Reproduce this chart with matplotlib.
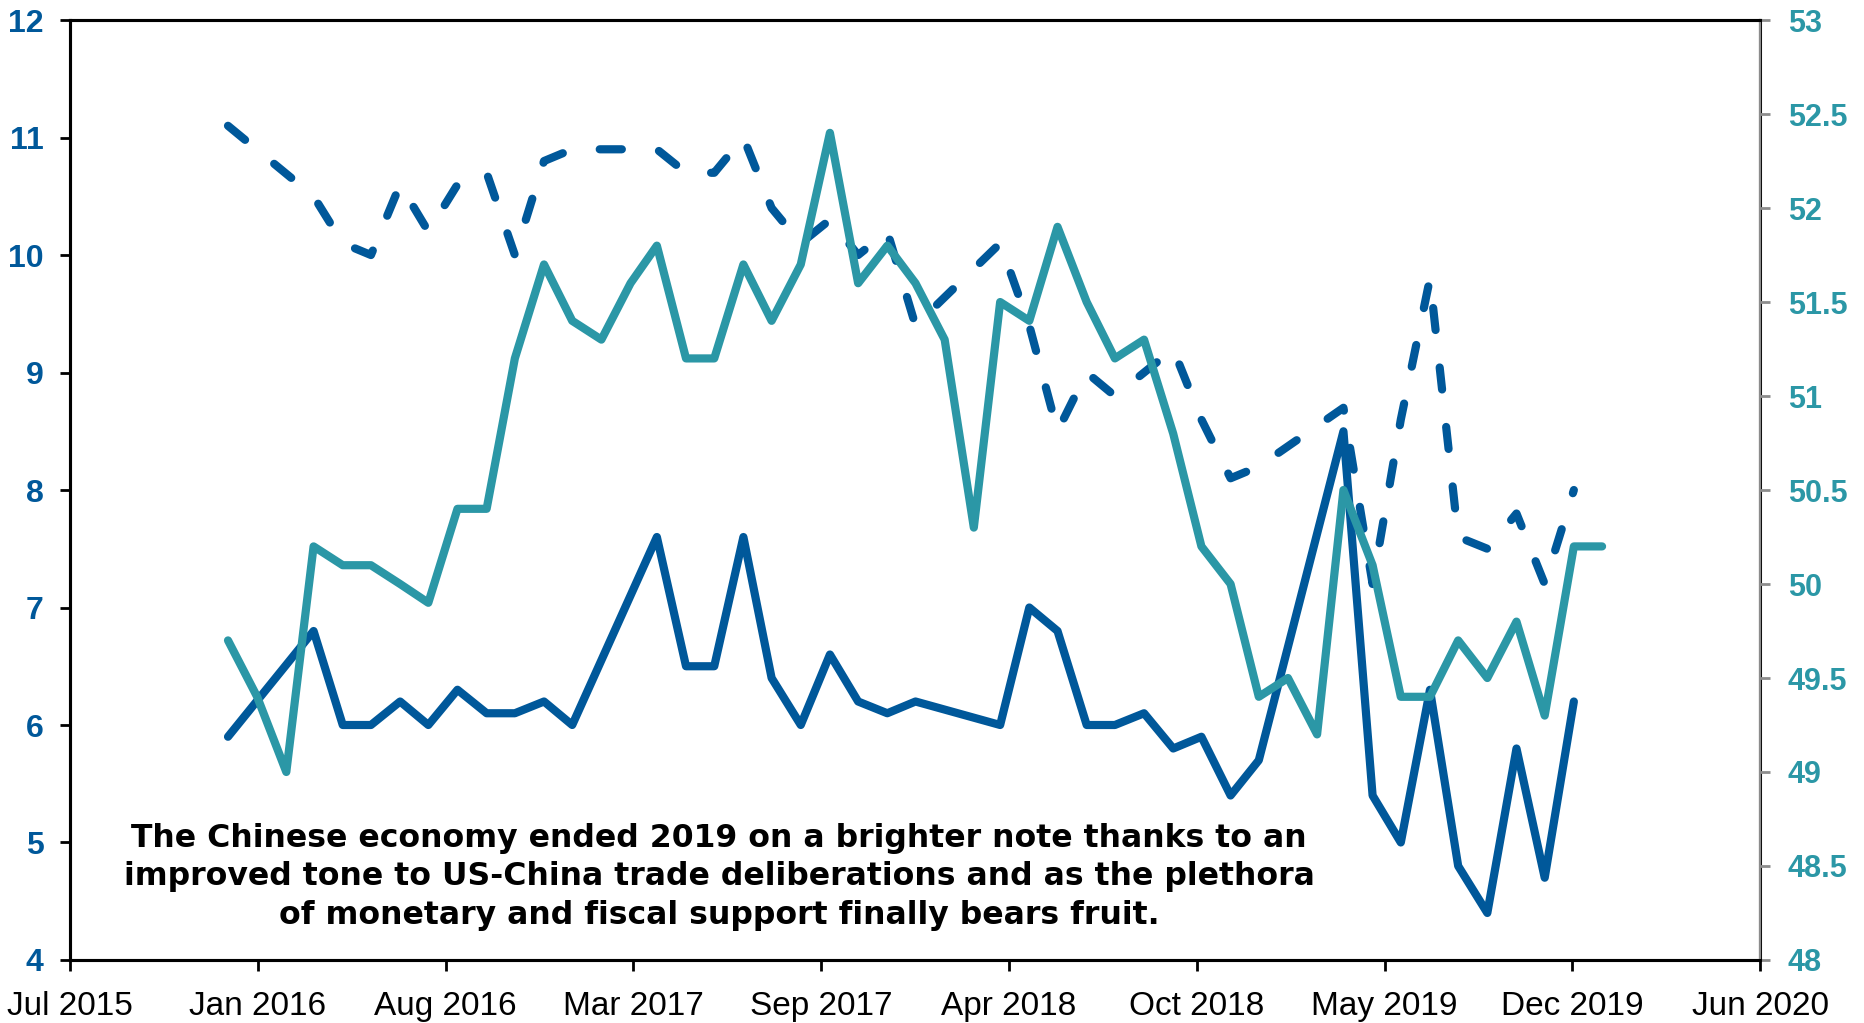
import numpy as np
import pandas as pd
import matplotlib
matplotlib.use("Agg")
import matplotlib.pyplot as plt
import matplotlib.dates as mdates

nan = np.nan

# Monthly observations, Dec 2015 onward
pmi = [49.7,
       49.4, 49.0, 50.2, 50.1, 50.1, 50.0, 49.9, 50.4, 50.4, 51.2, 51.7, 51.4,
       51.3, 51.6, 51.8, 51.2, 51.2, 51.7, 51.4, 51.7, 52.4, 51.6, 51.8, 51.6,
       51.3, 50.3, 51.5, 51.4, 51.9, 51.5, 51.2, 51.3, 50.8, 50.2, 50.0, 49.4,
       49.5, 49.2, 50.5, 50.1, 49.4, 49.4, 49.7, 49.5, 49.8, 49.3, 50.2, 50.2]

industrial_production = [5.9,
       nan, nan, 6.8, 6.0, 6.0, 6.2, 6.0, 6.3, 6.1, 6.1, 6.2, 6.0,
       nan, nan, 7.6, 6.5, 6.5, 7.6, 6.4, 6.0, 6.6, 6.2, 6.1, 6.2,
       nan, nan, 6.0, 7.0, 6.8, 6.0, 6.0, 6.1, 5.8, 5.9, 5.4, 5.7,
       nan, nan, 8.5, 5.4, 5.0, 6.3, 4.8, 4.4, 5.8, 4.7, 6.2]

retail_sales = [11.1,
       nan, nan, 10.5, 10.1, 10.0, 10.6, 10.2, 10.6, 10.7, 10.0, 10.8, 10.9,
       nan, nan, 10.9, 10.7, 10.7, 11.0, 10.4, 10.1, 10.3, 10.0, 10.2, 9.4,
       nan, nan, 10.1, 9.4, 8.5, 9.0, 8.8, 9.0, 9.2, 8.6, 8.1, 8.2,
       nan, nan, 8.7, 7.2, 8.6, 9.8, 7.6, 7.5, 7.8, 7.2, 8.0]

x_tick_labels = ["Jul 2015", "Jan 2016", "Aug 2016", "Mar 2017", "Sep 2017",
                 "Apr 2018", "Oct 2018", "May 2019", "Dec 2019", "Jun 2020"]
left_ticks = [4, 5, 6, 7, 8, 9, 10, 11, 12]
right_ticks = [48, 48.5, 49, 49.5, 50, 50.5, 51, 51.5, 52, 52.5, 53]

note = ("The Chinese economy ended 2019 on a brighter note thanks to an\n"
        "improved tone to US-China trade deliberations and as the plethora\n"
        "of monetary and fiscal support finally bears fruit.")

DARK = "#00589A"
TEAL = "#2B97A6"
GREY = "#8C8C8C"
tick_font = ["Liberation Sans Narrow", "Liberation Sans", "DejaVu Sans"]

# Observations are plotted at mid-month
dates = pd.date_range("2015-12-01", periods=len(pmi), freq="MS") + pd.Timedelta(days=15)
ip = pd.Series(industrial_production, index=dates[:len(industrial_production)]).dropna()
rs = pd.Series(retail_sales, index=dates[:len(retail_sales)]).dropna()
pm = pd.Series(pmi, index=dates)

fig = plt.figure(figsize=(18.64, 10.23), dpi=100)
ax = fig.add_axes([0.03755, 0.0616, 0.9067, 0.9188])
ax2 = ax.twinx()

lw = 5.9
ax.plot(rs.index, rs.values, color=DARK, lw=lw, dashes=(2.7, 4.6),
        dash_capstyle="round", solid_joinstyle="round", dash_joinstyle="round")
ax.plot(ip.index, ip.values, color=DARK, lw=lw, solid_capstyle="round",
        solid_joinstyle="round")
ax2.plot(pm.index, pm.values, color=TEAL, lw=lw, solid_capstyle="round",
         solid_joinstyle="round")

x0 = mdates.date2num(pd.Timestamp("2015-07-01"))
x1 = mdates.date2num(pd.Timestamp("2020-06-01"))
ax.set_xlim(x0, x1)
ax.set_xticks(np.linspace(x0, x1, len(x_tick_labels)))
ax.set_xticklabels(x_tick_labels, family=tick_font, fontsize=24, color="black")

ax.set_ylim(4, 12)
ax.set_yticks(left_ticks)
ax.set_yticklabels([f"{v:g}" for v in left_ticks], family=tick_font,
                   fontsize=23, fontweight="bold", color=DARK)
ax2.set_ylim(48, 53)
ax2.set_yticks(right_ticks)
ax2.set_yticklabels([f"{v:g}" for v in right_ticks], family=tick_font,
                    fontsize=22, fontweight="bold", color=TEAL)

for a in (ax, ax2):
    for s in a.spines.values():
        s.set_linewidth(2.2)
        s.set_color("black")
ax2.spines["right"].set_color(GREY)
ax2.spines["right"].set_linewidth(1.6)

ax.tick_params(axis="x", direction="out", length=8, width=2, color="black", pad=14)
ax.tick_params(axis="y", direction="out", length=7, width=2, color="black", pad=12)
ax2.tick_params(axis="y", direction="out", length=7, width=2, color=GREY, pad=13)

ax.text(0.384, 0.0883, note, transform=ax.transAxes, ha="center", va="center",
        multialignment="center", fontsize=22.7, fontweight="bold",
        family="DejaVu Sans", color="black", linespacing=1.33, zorder=10)

fig.savefig("out.png", dpi=100)
